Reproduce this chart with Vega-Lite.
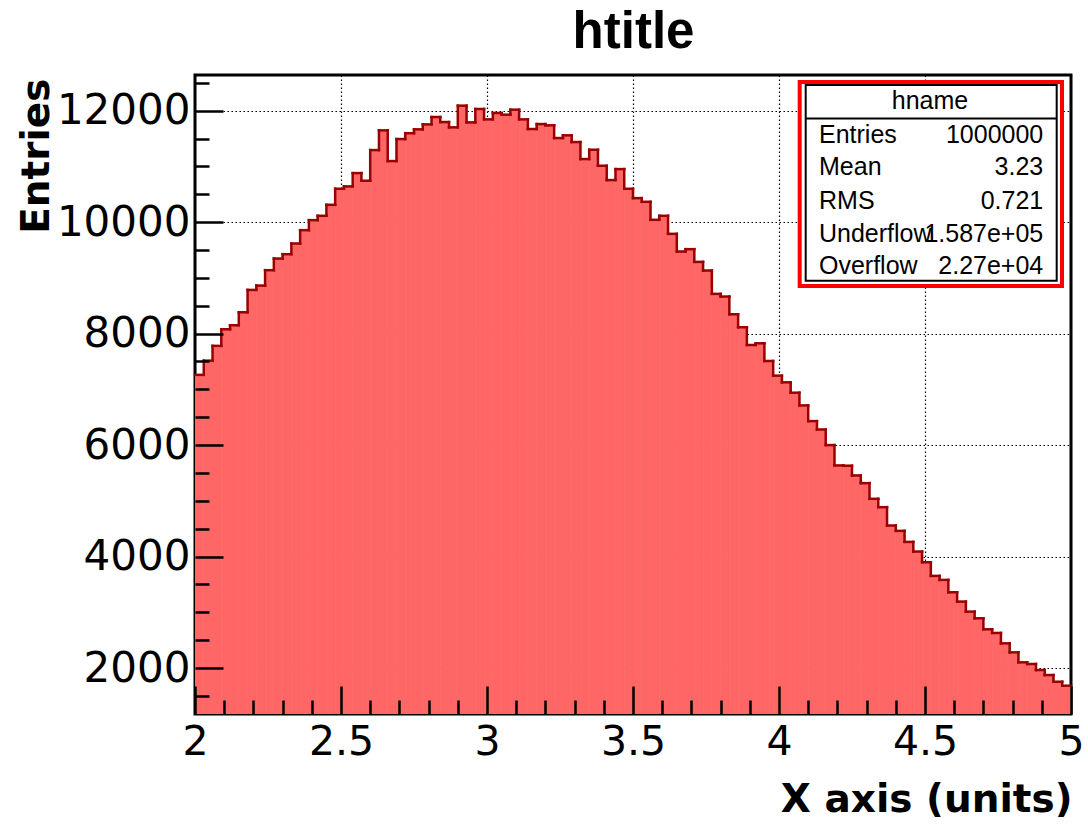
{
  "$schema": "https://vega.github.io/schema/vega-lite/v6.json",
  "autosize": {"type": "none"},
  "padding": {"left": 195, "top": 75, "right": 17, "bottom": 115},
  "width": 876,
  "height": 639,
  "background": "white",
  "config": {"view": {"stroke": "black", "strokeWidth": 3}},
  "data": {"values": [
    {"lo":2.00,"hi":2.03,"n":7260},{"lo":2.03,"hi":2.06,"n":7515},{"lo":2.06,"hi":2.09,"n":7780},{"lo":2.09,"hi":2.12,"n":8078},{"lo":2.12,"hi":2.15,"n":8150},
    {"lo":2.15,"hi":2.18,"n":8383},{"lo":2.18,"hi":2.21,"n":8784},{"lo":2.21,"hi":2.24,"n":8862},{"lo":2.24,"hi":2.27,"n":9138},{"lo":2.27,"hi":2.30,"n":9347},
    {"lo":2.30,"hi":2.33,"n":9425},{"lo":2.33,"hi":2.36,"n":9617},{"lo":2.36,"hi":2.39,"n":9856},{"lo":2.39,"hi":2.42,"n":10036},{"lo":2.42,"hi":2.45,"n":10114},
    {"lo":2.45,"hi":2.48,"n":10311},{"lo":2.48,"hi":2.51,"n":10599},{"lo":2.51,"hi":2.54,"n":10641},{"lo":2.54,"hi":2.57,"n":10880},{"lo":2.57,"hi":2.60,"n":10743},
    {"lo":2.60,"hi":2.63,"n":11293},{"lo":2.63,"hi":2.66,"n":11647},{"lo":2.66,"hi":2.69,"n":11096},{"lo":2.69,"hi":2.72,"n":11491},{"lo":2.72,"hi":2.75,"n":11596},
    {"lo":2.75,"hi":2.78,"n":11665},{"lo":2.78,"hi":2.81,"n":11754},{"lo":2.81,"hi":2.84,"n":11886},{"lo":2.84,"hi":2.87,"n":11796},{"lo":2.87,"hi":2.90,"n":11701},
    {"lo":2.90,"hi":2.93,"n":12090},{"lo":2.93,"hi":2.96,"n":11790},{"lo":2.96,"hi":2.99,"n":12030},{"lo":2.99,"hi":3.02,"n":11844},{"lo":3.02,"hi":3.05,"n":11958},
    {"lo":3.05,"hi":3.08,"n":11928},{"lo":3.08,"hi":3.11,"n":12018},{"lo":3.11,"hi":3.14,"n":11844},{"lo":3.14,"hi":3.17,"n":11671},{"lo":3.17,"hi":3.20,"n":11760},
    {"lo":3.20,"hi":3.23,"n":11737},{"lo":3.23,"hi":3.26,"n":11509},{"lo":3.26,"hi":3.29,"n":11557},{"lo":3.29,"hi":3.32,"n":11437},{"lo":3.32,"hi":3.35,"n":11132},
    {"lo":3.35,"hi":3.38,"n":11299},{"lo":3.38,"hi":3.41,"n":11012},{"lo":3.41,"hi":3.44,"n":10755},{"lo":3.44,"hi":3.47,"n":10952},{"lo":3.47,"hi":3.50,"n":10599},
    {"lo":3.50,"hi":3.53,"n":10431},{"lo":3.53,"hi":3.56,"n":10365},{"lo":3.56,"hi":3.59,"n":10042},{"lo":3.59,"hi":3.62,"n":10114},{"lo":3.62,"hi":3.65,"n":9790},
    {"lo":3.65,"hi":3.68,"n":9473},{"lo":3.68,"hi":3.71,"n":9515},{"lo":3.71,"hi":3.74,"n":9287},{"lo":3.74,"hi":3.77,"n":9132},{"lo":3.77,"hi":3.80,"n":8713},
    {"lo":3.80,"hi":3.83,"n":8665},{"lo":3.83,"hi":3.86,"n":8347},{"lo":3.86,"hi":3.89,"n":8114},{"lo":3.89,"hi":3.92,"n":7796},{"lo":3.92,"hi":3.95,"n":7826},
    {"lo":3.95,"hi":3.98,"n":7509},{"lo":3.98,"hi":4.01,"n":7246},{"lo":4.01,"hi":4.04,"n":7126},{"lo":4.04,"hi":4.07,"n":6940},{"lo":4.07,"hi":4.10,"n":6712},
    {"lo":4.10,"hi":4.13,"n":6430},{"lo":4.13,"hi":4.16,"n":6280},{"lo":4.16,"hi":4.19,"n":6000},{"lo":4.19,"hi":4.22,"n":5635},{"lo":4.22,"hi":4.25,"n":5630},
    {"lo":4.25,"hi":4.28,"n":5455},{"lo":4.28,"hi":4.31,"n":5317},{"lo":4.31,"hi":4.34,"n":5036},{"lo":4.34,"hi":4.37,"n":4886},{"lo":4.37,"hi":4.40,"n":4557},
    {"lo":4.40,"hi":4.43,"n":4461},{"lo":4.43,"hi":4.46,"n":4263},{"lo":4.46,"hi":4.49,"n":4090},{"lo":4.49,"hi":4.52,"n":3898},{"lo":4.52,"hi":4.55,"n":3653},
    {"lo":4.55,"hi":4.58,"n":3581},{"lo":4.58,"hi":4.61,"n":3359},{"lo":4.61,"hi":4.64,"n":3192},{"lo":4.64,"hi":4.67,"n":3012},{"lo":4.67,"hi":4.70,"n":2892},
    {"lo":4.70,"hi":4.73,"n":2695},{"lo":4.73,"hi":4.76,"n":2629},{"lo":4.76,"hi":4.79,"n":2443},{"lo":4.79,"hi":4.82,"n":2281},{"lo":4.82,"hi":4.85,"n":2102},
    {"lo":4.85,"hi":4.88,"n":2072},{"lo":4.88,"hi":4.91,"n":1964},{"lo":4.91,"hi":4.94,"n":1874},{"lo":4.94,"hi":4.97,"n":1754},{"lo":4.97,"hi":5.00,"n":1683}
  ]},
  "resolve": {"axis": {"x": "independent", "y": "independent"}},
  "layer": [
    {
      "mark": {"type": "bar", "color": "#ff6666", "stroke": "#ff6666", "strokeWidth": 0.7, "clip": true, "orient": "vertical"},
      "encoding": {
        "x": {"field": "lo", "type": "quantitative", "scale": {"domain": [2, 5], "nice": false, "zero": false, "padding": 0},
          "axis": {"orient": "bottom", "values": [2, 2.5, 3, 3.5, 4, 4.5, 5], "labelExpr": "'' + datum.value", "ticks": false, "domain": false, "grid": true, "gridColor": "black", "gridDash": [1.5, 2.5], "gridWidth": 1.2, "gridOpacity": 1, "zindex": 0,
            "labelFont": "DejaVu Sans", "labelFontSize": 41, "labelColor": "black", "labelPadding": 8, "labelFlush": false, "labelOverlap": false,
            "title": "X axis (units)", "titleFont": "DejaVu Sans", "titleFontWeight": "bold", "titleFontSize": 39, "titleColor": "black", "titleAnchor": "end", "titleAlign": "right", "titleBaseline": "alphabetic", "titleX": 877, "titleY": 97}},
        "x2": {"field": "hi"},
        "y": {"field": "n", "type": "quantitative", "scale": {"domain": [1175, 12640], "nice": false, "zero": false, "padding": 0},
          "axis": {"orient": "left", "values": [2000, 4000, 6000, 8000, 10000, 12000], "format": "d", "ticks": false, "domain": false, "grid": true, "gridColor": "black", "gridDash": [1.5, 2.5], "gridWidth": 1.2, "gridOpacity": 1, "zindex": 0,
            "labelFont": "DejaVu Sans", "labelFontSize": 42, "labelColor": "black", "labelPadding": 5, "labelFlush": false, "labelOverlap": false,
            "title": "Entries", "titleFont": "DejaVu Sans", "titleFontWeight": "bold", "titleFontSize": 39, "titleColor": "black", "titleAngle": 270, "titleAlign": "right", "titleBaseline": "alphabetic", "titleX": -147, "titleY": 3}},
        "y2": {"datum": 0}
      }
    },
    {
      "mark": {"type": "rule", "color": "#990000", "strokeWidth": 2.5, "strokeCap": "square"},
      "encoding": {
        "x": {"field": "lo", "type": "quantitative",
          "axis": {"orient": "bottom", "values": [2, 2.5, 3, 3.5, 4, 4.5, 5], "labels": false, "domain": false, "grid": false, "ticks": true, "tickSize": -28, "tickWidth": 2.5, "tickColor": "black", "zindex": 1, "title": null}},
        "x2": {"field": "hi"},
        "y": {"field": "n", "type": "quantitative",
          "axis": {"orient": "left", "values": [2000, 4000, 6000, 8000, 10000, 12000], "labels": false, "domain": false, "grid": false, "ticks": true, "tickSize": -28, "tickWidth": 2.5, "tickColor": "black", "zindex": 1, "title": null}}
      }
    },
    {
      "transform": [{"window": [{"op": "lag", "field": "n", "as": "prev"}], "sort": [{"field": "lo", "order": "ascending"}]}],
      "mark": {"type": "rule", "color": "#990000", "strokeWidth": 2.5, "strokeCap": "square"},
      "encoding": {
        "x": {"field": "lo", "type": "quantitative",
          "axis": {"orient": "bottom", "values": [2.1, 2.2, 2.3, 2.4, 2.6, 2.7, 2.8, 2.9, 3.1, 3.2, 3.3, 3.4, 3.6, 3.7, 3.8, 3.9, 4.1, 4.2, 4.3, 4.4, 4.6, 4.7, 4.8, 4.9], "labels": false, "domain": false, "grid": false, "ticks": true, "tickSize": -14, "tickWidth": 2.5, "tickColor": "black", "zindex": 1, "title": null}},
        "y": {"field": "prev", "type": "quantitative",
          "axis": {"orient": "left", "values": [1500, 2500, 3000, 3500, 4500, 5000, 5500, 6500, 7000, 7500, 8500, 9000, 9500, 10500, 11000, 11500, 12500], "labels": false, "domain": false, "grid": false, "ticks": true, "tickSize": -14, "tickWidth": 2.5, "tickColor": "black", "zindex": 1, "title": null}},
        "y2": {"field": "n"}
      }
    },
    {
      "data": {"values": [{}]},
      "mark": {"type": "rect", "fill": "white", "stroke": "#ff0000", "strokeWidth": 4},
      "encoding": {
        "x": {"datum": 4.0709, "type": "quantitative",
          "axis": {"orient": "top", "ticks": false, "labels": false, "domain": true, "domainOpacity": 0, "grid": false, "zindex": 1,
            "title": "htitle", "titleFont": "Liberation Sans", "titleFontWeight": "bold", "titleFontSize": 51, "titleColor": "black", "titleAlign": "center", "titleAnchor": "middle", "titleBaseline": "alphabetic", "titleX": 438, "titleY": -28}},
        "x2": {"datum": 4.9692},
        "y": {"datum": 12514, "type": "quantitative", "axis": null},
        "y2": {"datum": 8854}
      }
    },
    {
      "data": {"values": [{}]},
      "layer": [
        {"mark": {"type": "rect", "fill": null, "stroke": "black", "strokeWidth": 2},
         "encoding": {"x": {"datum": 4.0914, "type": "quantitative", "axis": null}, "x2": {"datum": 4.951}, "y": {"datum": 12460, "type": "quantitative", "axis": null}, "y2": {"datum": 8949}}},
        {"mark": {"type": "rule", "color": "black", "strokeWidth": 2},
         "encoding": {"x": {"datum": 4.0914, "type": "quantitative", "axis": null}, "x2": {"datum": 4.951}, "y": {"datum": 11860, "type": "quantitative", "axis": null}}},
        {"mark": {"type": "text", "font": "Liberation Sans", "fontSize": 25, "color": "black", "align": "center", "baseline": "middle"},
         "encoding": {"x": {"datum": 4.5171, "type": "quantitative", "axis": null}, "y": {"datum": 12173, "type": "quantitative", "axis": null}, "text": {"value": "hname"}}},
        {"mark": {"type": "text", "font": "Liberation Sans", "fontSize": 25, "color": "black", "align": "left", "baseline": "middle"},
         "encoding": {"x": {"datum": 4.137, "type": "quantitative", "axis": null}, "y": {"datum": 11569, "type": "quantitative", "axis": null}, "text": {"value": "Entries"}}},
        {"mark": {"type": "text", "font": "Liberation Sans", "fontSize": 25, "color": "black", "align": "right", "baseline": "middle"},
         "encoding": {"x": {"datum": 4.905, "type": "quantitative", "axis": null}, "y": {"datum": 11569, "type": "quantitative", "axis": null}, "text": {"value": "1000000"}}},
        {"mark": {"type": "text", "font": "Liberation Sans", "fontSize": 25, "color": "black", "align": "left", "baseline": "middle"},
         "encoding": {"x": {"datum": 4.137, "type": "quantitative", "axis": null}, "y": {"datum": 10984, "type": "quantitative", "axis": null}, "text": {"value": "Mean"}}},
        {"mark": {"type": "text", "font": "Liberation Sans", "fontSize": 25, "color": "black", "align": "right", "baseline": "middle"},
         "encoding": {"x": {"datum": 4.905, "type": "quantitative", "axis": null}, "y": {"datum": 10984, "type": "quantitative", "axis": null}, "text": {"value": "3.23"}}},
        {"mark": {"type": "text", "font": "Liberation Sans", "fontSize": 25, "color": "black", "align": "left", "baseline": "middle"},
         "encoding": {"x": {"datum": 4.137, "type": "quantitative", "axis": null}, "y": {"datum": 10385, "type": "quantitative", "axis": null}, "text": {"value": "RMS"}}},
        {"mark": {"type": "text", "font": "Liberation Sans", "fontSize": 25, "color": "black", "align": "right", "baseline": "middle"},
         "encoding": {"x": {"datum": 4.905, "type": "quantitative", "axis": null}, "y": {"datum": 10385, "type": "quantitative", "axis": null}, "text": {"value": "0.721"}}},
        {"mark": {"type": "text", "font": "Liberation Sans", "fontSize": 25, "color": "black", "align": "left", "baseline": "middle"},
         "encoding": {"x": {"datum": 4.137, "type": "quantitative", "axis": null}, "y": {"datum": 9787, "type": "quantitative", "axis": null}, "text": {"value": "Underflow"}}},
        {"mark": {"type": "text", "font": "Liberation Sans", "fontSize": 25, "color": "black", "align": "right", "baseline": "middle"},
         "encoding": {"x": {"datum": 4.905, "type": "quantitative", "axis": null}, "y": {"datum": 9787, "type": "quantitative", "axis": null}, "text": {"value": "1.587e+05"}}},
        {"mark": {"type": "text", "font": "Liberation Sans", "fontSize": 25, "color": "black", "align": "left", "baseline": "middle"},
         "encoding": {"x": {"datum": 4.137, "type": "quantitative", "axis": null}, "y": {"datum": 9208, "type": "quantitative", "axis": null}, "text": {"value": "Overflow"}}},
        {"mark": {"type": "text", "font": "Liberation Sans", "fontSize": 25, "color": "black", "align": "right", "baseline": "middle"},
         "encoding": {"x": {"datum": 4.905, "type": "quantitative", "axis": null}, "y": {"datum": 9208, "type": "quantitative", "axis": null}, "text": {"value": "2.27e+04"}}}
      ]
    }
  ]
}
